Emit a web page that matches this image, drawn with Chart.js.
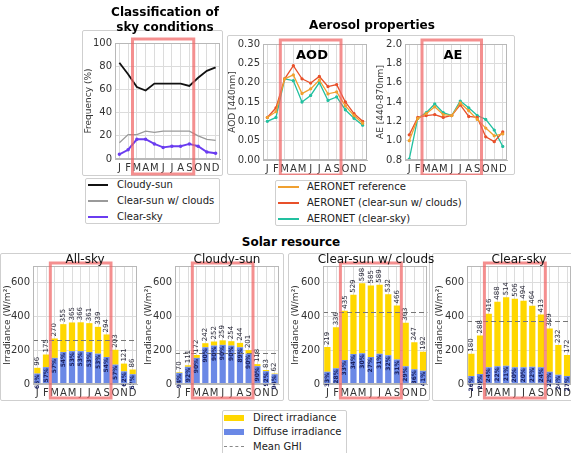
<!DOCTYPE html>
<html><head><meta charset="utf-8">
<script src="https://cdn.jsdelivr.net/npm/chart.js@4/dist/chart.umd.min.js"></script>
<style>
body{margin:0;width:571px;height:453px;overflow:hidden;background:#fff;font-family:"DejaVu Sans",sans-serif;position:relative;color:#000}
.frame{position:absolute;border:1px solid #cfcfcf;border-radius:2px;box-sizing:border-box}
.title{position:absolute;font-weight:bold;font-size:12px;line-height:15px;text-align:center;white-space:nowrap;transform:translateX(-50%)}
.ptitle{position:absolute;font-size:12px;line-height:14px;white-space:nowrap;transform:translateX(-50%);color:#111}
canvas{position:absolute}
.leg{position:absolute;border:1px solid #cfcfcf;border-radius:2px;background:#fff;font-size:10px;box-sizing:border-box;color:#222}
.lt{position:absolute;white-space:nowrap;line-height:14px}
.ls{position:absolute}
</style></head><body>

<div class="frame" style="left:82px;top:30px;width:141px;height:146px"></div>
<div class="frame" style="left:227px;top:35px;width:288px;height:140px"></div>
<div class="frame" style="left:0px;top:253px;width:284px;height:148px"></div>
<div class="frame" style="left:288px;top:253px;width:142px;height:148px"></div>
<div class="frame" style="left:432px;top:253px;width:142px;height:148px"></div>

<canvas id="c1" width="141" height="146" style="left:82px;top:30px"></canvas>
<canvas id="cAOD" width="145" height="140" style="left:227px;top:35px"></canvas>
<canvas id="cAE" width="140" height="140" style="left:372px;top:35px"></canvas>
<canvas id="b1" width="141" height="147" style="left:0px;top:253px"></canvas>
<canvas id="b2" width="142" height="147" style="left:141px;top:253px"></canvas>
<canvas id="b3" width="142" height="147" style="left:288px;top:253px"></canvas>
<canvas id="b4" width="142" height="147" style="left:432px;top:253px"></canvas>

<div class="title" style="left:165px;top:5px">Classification of<br>sky conditions</div>
<div class="title" style="left:372px;top:18px">Aerosol properties</div>
<div class="title" style="left:291px;top:235px">Solar resource</div>
<div class="title" style="left:312px;top:47px;font-size:13px">AOD</div>
<div class="title" style="left:453px;top:47px;font-size:13px">AE</div>

<div class="ptitle" style="left:85px;top:252px">All-sky</div>
<div class="ptitle" style="left:227px;top:252px">Cloudy-sun</div>
<div class="ptitle" style="left:376px;top:252px">Clear-sun w/ clouds</div>
<div class="ptitle" style="left:519px;top:252px">Clear-sky</div>

<div class="leg" style="left:85px;top:178px;width:135px;height:46px">
  <div class="ls" style="left:2px;top:5px;width:20px;height:2px;background:#111"></div>
  <div class="lt" style="left:31px;top:-1px">Cloudy-sun</div>
  <div class="ls" style="left:2px;top:21px;width:20px;height:1.5px;background:#9a9a9a"></div>
  <div class="lt" style="left:31px;top:15px">Clear-sun w/ clouds</div>
  <div class="ls" style="left:2px;top:37px;width:20px;height:2px;background:#6a3cf0"></div>
  <div class="lt" style="left:31px;top:31px">Clear-sky</div>
</div>

<div class="leg" style="left:275px;top:180px;width:192px;height:46px">
  <div class="ls" style="left:2px;top:5px;width:21px;height:1.5px;background:#f0a030"></div>
  <div class="lt" style="left:31px;top:-1px">AERONET reference</div>
  <div class="ls" style="left:2px;top:21px;width:21px;height:1.5px;background:#e8502a"></div>
  <div class="lt" style="left:31px;top:15px">AERONET (clear-sun w/ clouds)</div>
  <div class="ls" style="left:2px;top:37px;width:21px;height:1.5px;background:#22c0a0"></div>
  <div class="lt" style="left:31px;top:31px">AERONET (clear-sky)</div>
</div>

<div class="leg" style="left:222px;top:410px;width:125px;height:50px">
  <div class="ls" style="left:1px;top:4px;width:20px;height:6px;background:#ffd700"></div>
  <div class="lt" style="left:30px;top:0px">Direct irradiance</div>
  <div class="ls" style="left:1px;top:18px;width:20px;height:6px;background:#6a88e6"></div>
  <div class="lt" style="left:30px;top:14px">Diffuse irradiance</div>
  <div class="ls" style="left:1px;top:35px;width:20px;height:0;border-top:1.5px dashed #888"></div>
  <div class="lt" style="left:30px;top:29px">Mean GHI</div>
</div>

<script>
// ---------------- DATA ----------------
const months = ['J','F','M','A','M','J','J','A','S','O','N','D'];

// Classification of sky conditions (frequency %)
const freqCloudySun = [83, 73, 62, 59, 65, 65, 65, 65, 63, 70, 76, 79];
const freqClearSunClouds = [14, 21, 21, 24, 23, 24, 24, 24, 24, 20, 17, 16];
const freqClearSky = [4, 8, 17, 17, 13, 10, 11, 11, 13, 11, 6, 5];

// Aerosol optical depth (440 nm)
const aodReference = [0.11, 0.125, 0.21, 0.22, 0.172, 0.184, 0.207, 0.171, 0.176, 0.14, 0.115, 0.095];
const aodClearSunClouds = [0.11, 0.135, 0.21, 0.244, 0.21, 0.199, 0.216, 0.19, 0.195, 0.15, 0.12, 0.10];
const aodClearSky = [0.10, 0.11, 0.21, 0.205, 0.15, 0.167, 0.20, 0.154, 0.163, 0.13, 0.108, 0.09];

// Angstrom exponent (440-870 nm)
const aeReference = [1.0, 1.23, 1.28, 1.35, 1.27, 1.26, 1.39, 1.31, 1.22, 1.13, 1.05, 1.07];
const aeClearSunClouds = [1.06, 1.24, 1.26, 1.27, 1.24, 1.26, 1.37, 1.25, 1.24, 1.04, 0.99, 1.09];
const aeClearSky = [0.81, 1.23, 1.29, 1.38, 1.29, 1.26, 1.41, 1.34, 1.26, 1.22, 1.11, 0.94];

// Solar resource: monthly GHI totals (labels) and diffuse part (W/m2)
const allSkyTotal = [96, 175, 270, 355, 365, 366, 361, 339, 294, 203, 121, 86];
const allSkyDiffuse = [62, 100, 155, 190, 195, 195, 190, 180, 160, 115, 75, 58];
const cloudySunTotal = [70, 111, 172, 242, 252, 259, 254, 244, 201, 118, 83, 62];
const cloudySunDiffuse = [66, 102, 155, 218, 228, 232, 228, 218, 180, 106, 76, 58];
const clearSunTotal = [219, 336, 435, 529, 598, 585, 589, 532, 466, 363, 247, 192];
const clearSunDiffuse = [73, 93, 142, 178, 182, 160, 180, 170, 145, 105, 88, 78];
const clearSkyTotal = [180, 288, 416, 488, 514, 506, 494, 464, 413, 329, 232, 172];
const clearSkyDiffuse = [47, 59, 100, 105, 108, 100, 100, 102, 100, 73, 55, 47];
const meanGHI = [262, 182, 428, 375];

const irradianceTicks = [0, 200, 400, 600];

// ---------------- STYLE / PLUGINS ----------------
Chart.defaults.font.family = '"DejaVu Sans", sans-serif';
Chart.defaults.color = '#333';
Chart.defaults.animation = false;

const GRID = '#dcdcdc', BORDER = '#b8b8b8';
const YELLOW = '#ffd700', BLUE = '#6a88e6';

const areaBox = {
  id: 'areaBox',
  afterDatasetsDraw(chart) {
    const {ctx, chartArea: a} = chart;
    ctx.save(); ctx.strokeStyle = BORDER; ctx.lineWidth = 1;
    ctx.strokeRect(Math.round(a.left) + 0.5, Math.round(a.top) + 0.5, Math.round(a.width) - 1, Math.round(a.height) - 1);
    ctx.restore();
  }
};

const redBox = {
  id: 'redBox',
  afterDraw(chart, args, o) {
    const {ctx, chartArea: a} = chart, x = chart.scales.x;
    const x1 = x.getPixelForValue(1.5), x2 = x.getPixelForValue(8.5);
    ctx.save();
    ctx.strokeStyle = 'rgba(240,100,100,0.72)'; ctx.lineWidth = 3;
    ctx.strokeRect(x1, a.top - o.top, x2 - x1, a.bottom - a.top + o.top + o.bottom);
    ctx.restore();
  }
};

const meanLine = {
  id: 'meanLine',
  afterDatasetsDraw(chart, args, o) {
    const {ctx, chartArea: a} = chart, y = chart.scales.y;
    const py = Math.round(y.getPixelForValue(o.value)) + 0.5;
    ctx.save(); ctx.strokeStyle = '#777'; ctx.lineWidth = 1.2; ctx.setLineDash([5, 3]);
    ctx.beginPath(); ctx.moveTo(a.left, py); ctx.lineTo(a.right, py); ctx.stroke();
    ctx.restore();
  }
};

const barLabels = {
  id: 'barLabels',
  afterDatasetsDraw(chart, args, o) {
    const {ctx} = chart, x = chart.scales.x, y = chart.scales.y;
    ctx.save();
    o.total.forEach((t, i) => {
      const px = x.getPixelForValue(i);
      ctx.save();
      ctx.translate(px, y.getPixelForValue(t) - 2);
      ctx.rotate(-Math.PI / 2);
      ctx.font = '7px "DejaVu Sans"'; ctx.fillStyle = '#2a2a3a';
      ctx.textAlign = 'left'; ctx.textBaseline = 'middle';
      ctx.fillText(String(t), 0, 0);
      ctx.restore();
      const d = o.diffuse[i];
      ctx.save();
      ctx.translate(px, y.getPixelForValue(d) + 1);
      ctx.rotate(-Math.PI / 2);
      ctx.font = 'bold 6px "DejaVu Sans"'; ctx.fillStyle = '#1c2260';
      ctx.textAlign = 'right'; ctx.textBaseline = 'middle';
      ctx.fillText(Math.round(d / t * 100) + '%', 0, 0);
      ctx.restore();
    });
    ctx.restore();
  }
};

const fixW = w => s => { s.width = w; };
const fixH = h => s => { s.height = h; };

function xAxis(h) {
  return {
    offset: true,
    grid: {offset: false, color: GRID, drawTicks: false},
    border: {color: BORDER},
    ticks: {autoSkip: false, maxRotation: 0, minRotation: 0, padding: 3, font: {size: 10}, color: '#333'},
    afterFit: fixH(h)
  };
}

function lineDs(data, color, w, r) {
  return {data, borderColor: color, backgroundColor: color, borderWidth: w, pointRadius: r,
          pointHoverRadius: 0, tension: 0, fill: false};
}

function lineChart(id, datasets, y, pad, yw, xh, title, tpad) {
  return new Chart(document.getElementById(id), {
    type: 'line',
    data: {labels: months, datasets},
    options: {
      responsive: false, devicePixelRatio: 1, animation: false,
      layout: {padding: pad},
      plugins: {legend: {display: false}, tooltip: {enabled: false}, redBox: {top: 4, bottom: 15}},
      scales: {
        x: xAxis(xh),
        y: Object.assign({
          grid: {color: GRID, drawTicks: false}, border: {color: BORDER},
          title: {display: true, text: title, font: {size: 9}, color: '#333', padding: {top: tpad, bottom: 0}},
          afterFit: fixW(yw)
        }, y)
      }
    },
    plugins: [areaBox, redBox]
  });
}

// Classification
lineChart('c1', [
  lineDs(freqCloudySun, '#111111', 1.8, 0),
  lineDs(freqClearSunClouds, '#9a9a9a', 1.3, 0),
  lineDs(freqClearSky, '#6a3cf0', 1.9, 0.8)
], {min: 0, max: 100, ticks: {stepSize: 20, padding: 3, font: {size: 10}, color: '#333'}},
   {top: 13, right: 3, left: 0, bottom: 0}, 33, 17, 'Frequency (%)', 1);

// AOD
lineChart('cAOD', [
  lineDs(aodReference, '#f0a030', 1.3, 1),
  lineDs(aodClearSunClouds, '#e8502a', 1.3, 1),
  lineDs(aodClearSky, '#22c0a0', 1.3, 1)
], {min: 0, max: 0.30, ticks: {stepSize: 0.05, padding: 3, font: {size: 10}, color: '#333',
    callback: v => Number(v).toFixed(2)}},
   {top: 8, right: 5, left: 0, bottom: 0}, 36, 15, 'AOD [440nm]', 0);

// AE
lineChart('cAE', [
  lineDs(aeReference, '#f0a030', 1.3, 1),
  lineDs(aeClearSunClouds, '#e8502a', 1.3, 1),
  lineDs(aeClearSky, '#22c0a0', 1.3, 1)
], {min: 0.8, max: 2.0, ticks: {stepSize: 0.2, padding: 3, font: {size: 10}, color: '#333',
    callback: v => Number(v).toFixed(1)}},
   {top: 8, right: 5, left: 0, bottom: 0}, 33, 15, 'AE [440-870nm]', 3);

// Solar resource bars
function barChart(id, total, diffuse, mean, yw, padR) {
  return new Chart(document.getElementById(id), {
    type: 'bar',
    data: {labels: months, datasets: [
      {label: 'Diffuse irradiance', data: diffuse, backgroundColor: BLUE, grouped: false,
       barPercentage: 0.72, categoryPercentage: 1},
      {label: 'Direct irradiance', data: diffuse.map((d, i) => [d, total[i]]), backgroundColor: YELLOW,
       grouped: false, barPercentage: 0.72, categoryPercentage: 1}
    ]},
    options: {
      responsive: false, devicePixelRatio: 1, animation: false,
      layout: {padding: {top: 13, right: padR, left: 0, bottom: 0}},
      plugins: {legend: {display: false}, tooltip: {enabled: false},
                redBox: {top: 3, bottom: 14}, meanLine: {value: mean},
                barLabels: {total, diffuse}},
      scales: {
        x: xAxis(16),
        y: {
          min: 0, max: 700,
          afterBuildTicks: s => { s.ticks = irradianceTicks.map(v => ({value: v})); },
          grid: {color: GRID, drawTicks: false}, border: {color: BORDER},
          ticks: {padding: 3, font: {size: 10}, color: '#333'},
          title: {display: true, text: 'Irradiance (W/m²)', font: {size: 9}, color: '#333', padding: {top: 2, bottom: 0}},
          afterFit: fixW(yw)
        }
      }
    },
    plugins: [meanLine, barLabels, areaBox, redBox]
  });
}

barChart('b1', allSkyTotal, allSkyDiffuse, meanGHI[0], 33, 4);
barChart('b2', cloudySunTotal, cloudySunDiffuse, meanGHI[1], 34, 4);
barChart('b3', clearSunTotal, clearSunDiffuse, meanGHI[2], 35, 2);
barChart('b4', clearSkyTotal, clearSkyDiffuse, meanGHI[3], 35, 2);
</script>
</body></html>
